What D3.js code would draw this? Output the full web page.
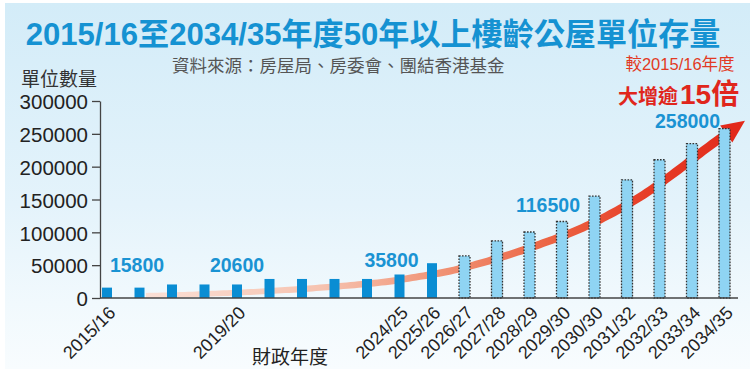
<!DOCTYPE html>
<html><head><meta charset="utf-8">
<script src="https://cdn.jsdelivr.net/npm/d3@7"></script>
<style>html,body{margin:0;padding:0;background:#fff}svg{display:block}</style>
</head><body>
<svg id="chart" width="750" height="369"></svg>
<script>
// ---------- data ----------
const categories = ["2015/16","2016/17","2017/18","2018/19","2019/20","2020/21","2021/22","2022/23","2023/24","2024/25",
  "2025/26","2026/27","2027/28","2028/29","2029/30","2030/30","2031/32","2032/33","2033/34","2034/35"];
const values = [15800,15800,20600,20600,20600,29000,29000,29000,29000,35800,
  53000,64000,87000,100500,116500,155000,180000,210500,235000,258000];
const status = ["actual","actual","actual","actual","actual","actual","actual","actual","actual","actual","actual",
  "projected","projected","projected","projected","projected","projected","projected","projected","projected"];
const shownLabels = ["2015/16","2019/20","2024/25","2025/26","2026/27","2027/28","2028/29","2029/30","2030/30","2031/32","2032/33","2033/34","2034/35"];
const labelIndex = [0,4,9,14,19];
const yTicks = [0,50000,100000,150000,200000,250000,300000];
// trend arrow (category index, value)
const trendIdx = [1.2,2.5,5.5,8.5,9.5,10.5,11.5,12.5,13.5,14.5,15.5,16.5,17.5,18.45,19.63];
const trendVal = [3800,5300,12100,24200,31800,40500,53000,68000,85000,104000,128000,157000,192000,228000,270000];

const title = "2015/16至2034/35年度50年以上樓齡公屋單位存量";
const source = "資料來源：房屋局、房委會、團結香港基金";
const yTitle = "單位數量";
const xTitle = "財政年度";
const note1 = "較2015/16年度";
const note2a = "大增逾";
const note2b = "15倍";

// ---------- drawing ----------
const LAT = "'Liberation Sans', Arial, 'Noto Sans CJK TC', sans-serif";
const CJK = "'Liberation Sans', 'Noto Sans CJK TC', sans-serif";
const svg = d3.select("#chart");
const defs = svg.append("defs");

const bg = defs.append("linearGradient").attr("id","bg").attr("x1",0).attr("y1",0).attr("x2",0).attr("y2",1);
bg.append("stop").attr("offset","0").attr("stop-color","#d3ecf8");
bg.append("stop").attr("offset","0.55").attr("stop-color","#e4f3fb");
bg.append("stop").attr("offset","0.82").attr("stop-color","#f1f9fd");
bg.append("stop").attr("offset","1").attr("stop-color","#f8fcfe");
svg.append("rect").attr("x",5).attr("y",3).attr("width",745).attr("height",366).attr("fill","url(#bg)");

const x = d3.scalePoint().domain(categories).range([107, 724.5]);
const xIdx = d3.scaleLinear().domain([0, categories.length-1]).range([107, 724.5]);
const y = d3.scaleLinear().domain([0,300000]).range([298,101]);

// title
const t = svg.append("text").attr("x",373).attr("y",45).attr("text-anchor","middle")
  .attr("font-family",CJK).attr("font-weight","bold").attr("font-size",30).attr("fill","#1592d2").text(title);
const tw = t.node().getComputedTextLength();
t.attr("font-size", 30*695/tw);

svg.append("text").attr("x",172).attr("y",72).attr("font-family",CJK).attr("font-size",17.5).attr("fill","#555").text(source);
svg.append("text").attr("x",21).attr("y",86).attr("font-family",CJK).attr("font-size",19).attr("fill","#333").text(yTitle);

// y axis
const yAxis = svg.append("g").attr("transform","translate(100,0)")
  .call(d3.axisLeft(y).tickValues(yTicks).tickSize(8).tickSizeOuter(0).tickPadding(4).tickFormat(d3.format("d")));
yAxis.select(".domain").attr("stroke","#444").attr("stroke-width",1.3);
yAxis.selectAll(".tick line").attr("stroke","#444").attr("stroke-width",1.3);
yAxis.selectAll(".tick text").attr("font-family",LAT).attr("font-size",20.5).attr("fill","#222").attr("dy","0.38em");

// trend arrow
const grad = defs.append("linearGradient").attr("id","arr").attr("gradientUnits","userSpaceOnUse")
  .attr("x1",140).attr("y1",0).attr("x2",745).attr("y2",0);
[["0","#fbe1d7"],["0.3","#f6c3b0"],["0.5","#f09274"],["0.68","#ec6343"],["0.85","#e63b25"],["1","#e22a1b"]]
  .forEach(s=>grad.append("stop").attr("offset",s[0]).attr("stop-color",s[1]));
const pts = trendIdx.map((d,i)=>[xIdx(d), y(trendVal[i])]);
const guide = svg.append("path").attr("d", d3.line().curve(d3.curveCatmullRom.alpha(0.5))(pts)).attr("fill","none").attr("stroke","none");
const gn = guide.node();
const L = gn.getTotalLength();
const headLen = 21;
const N = 160;
const samp = d3.range(N+1).map(i=>{const p=gn.getPointAtLength((L-headLen)*i/N); return [p.x,p.y];});
const left=[], right=[];
samp.forEach((p,i)=>{
  const a = samp[Math.max(0,i-1)], b = samp[Math.min(N,i+1)];
  let dx=b[0]-a[0], dy=b[1]-a[1]; const len=Math.hypot(dx,dy)||1; dx/=len; dy/=len;
  const w = 2.6 + 1.9*(i/N);
  left.push([p[0]-dy*w, p[1]+dx*w]); right.push([p[0]+dy*w, p[1]-dx*w]);
});
const tip = gn.getPointAtLength(L);
const base = samp[N];
let ddx = tip.x-base[0], ddy = tip.y-base[1]; const dl = Math.hypot(ddx,ddy); ddx/=dl; ddy/=dl;
const hw = 10.5;
const body = left.concat(right.reverse());
svg.append("path").attr("d", d3.line()(body)+"Z").attr("fill","url(#arr)");
svg.append("path").attr("d", d3.line()([[base[0]-ddx*2-ddy*hw, base[1]-ddy*2+ddx*hw],[tip.x,tip.y],[base[0]-ddx*2+ddy*hw, base[1]-ddy*2-ddx*hw]])+"Z")
  .attr("fill","#e22a1b");

// bars
const barData = categories.map((c,i)=>({c, v:values[i], s:status[i]}));
svg.append("g").selectAll("rect").data(barData).join("rect")
  .attr("x", d=> x(d.c) - (d.s==="actual"?5:5.5))
  .attr("width", d=> d.s==="actual"?10:11)
  .attr("y", d=> y(d.v))
  .attr("height", d=> y(0)-y(d.v))
  .attr("fill", d=> d.s==="actual" ? "#0a8dd3" : "#8fd4f3")
  .attr("stroke", d=> d.s==="actual" ? "none" : "#333")
  .attr("stroke-width", 1.3)
  .attr("stroke-dasharray", "1.6,1.4");

// x axis
svg.append("line").attr("x1",100).attr("x2",738).attr("y1",y(0)).attr("y2",y(0)).attr("stroke","#444").attr("stroke-width",1.5);
const xAxis = svg.append("g").attr("transform",`translate(0,${y(0)})`)
  .call(d3.axisBottom(x).tickValues(shownLabels).tickSize(0));
xAxis.select(".domain").remove();
xAxis.selectAll(".tick text").attr("x",0).attr("y",0).attr("dy",0)
  .attr("transform","translate(9,16) rotate(-45)").attr("text-anchor","end")
  .attr("font-family",LAT).attr("font-size",18).attr("fill","#222");

svg.append("text").attr("x",290).attr("y",364).attr("text-anchor","middle").attr("font-family",CJK)
  .attr("font-size",19).attr("fill","#222").text(xTitle);

// value labels
const labDx = [30, 0, -8, -14, -37];
const labDy = [-15.6, -12.4, -7.4, -9, -1];
svg.append("g").selectAll("text").data(labelIndex).join("text")
  .attr("x",(d,i)=> x(categories[d]) + labDx[i])
  .attr("y",(d,i)=> y(values[d]) + labDy[i])
  .attr("text-anchor","middle").attr("font-family",LAT).attr("font-weight","bold")
  .attr("font-size",19.5).attr("fill","#1a93d3").text(d=> values[d]);

// annotation
svg.append("text").attr("x",680).attr("y",70).attr("text-anchor","middle").attr("font-family",CJK)
  .attr("font-size",16.5).attr("fill","#e23a24").text(note1);
svg.append("text").attr("x",618).attr("y",104).attr("font-family",CJK).attr("font-weight","bold")
  .attr("font-size",20).attr("fill","#e0261c").text(note2a);
svg.append("text").attr("x",680).attr("y",104).attr("font-family",CJK).attr("font-weight","bold")
  .attr("font-size",28).attr("fill","#e0261c").text(note2b);
</script>
</body></html>
